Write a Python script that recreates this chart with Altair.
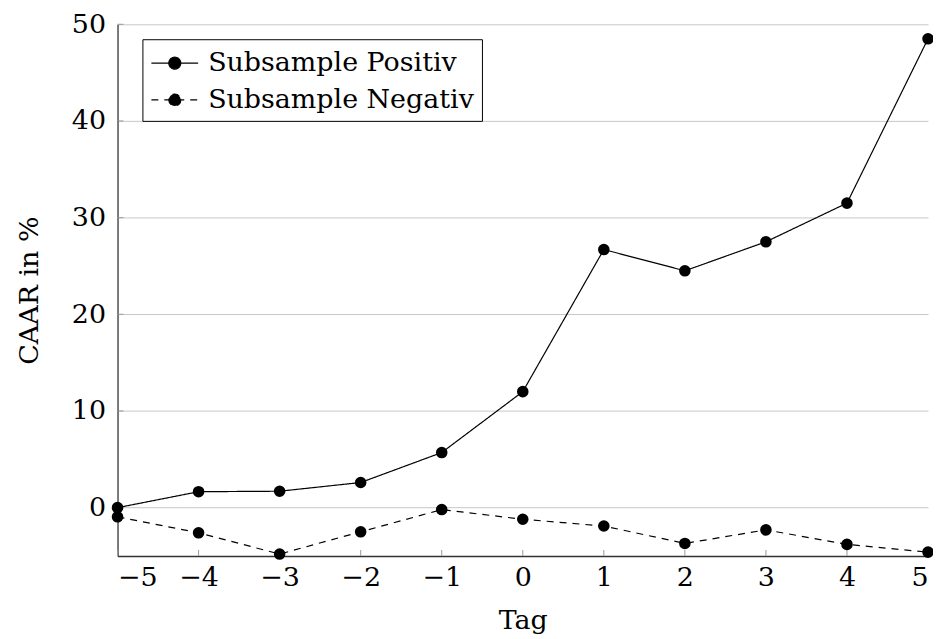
import altair as alt
import pandas as pd

tage = [-5, -4, -3, -2, -1, 0, 1, 2, 3, 4, 5]
positiv = [0.0, 1.65, 1.7, 2.6, 5.7, 12.0, 26.7, 24.5, 27.5, 31.5, 48.5]
negativ = [-0.95, -2.6, -4.8, -2.5, -0.2, -1.2, -1.9, -3.7, -2.3, -3.8, -4.6]
series = ["Subsample Positiv", "Subsample Negativ"]
y_ticks = [0, 10, 20, 30, 40, 50]

df = pd.DataFrame({
    "Tag": tage * 2,
    "CAAR": positiv + negativ,
    "Serie": [series[0]] * len(tage) + [series[1]] * len(tage),
})
xticks_df = pd.DataFrame({"Tag": tage})
yticks_df = pd.DataFrame({"CAAR": y_ticks})

FONT = "DejaVu Serif"
FS = 27
W, H = 814, 534

x_enc = alt.X(
    "Tag:Q",
    scale=alt.Scale(domain=[-5, 5], nice=False, zero=False),
    axis=alt.Axis(values=tage, title="Tag", grid=False, tickSize=0,
                  labelPadding=9, titlePadding=17, format="d"),
)
y_enc = alt.Y(
    "CAAR:Q",
    scale=alt.Scale(domain=[-5, 50], nice=False, zero=False),
    axis=alt.Axis(values=y_ticks, title="CAAR in %", grid=True, tickSize=0,
                  labelPadding=12, titlePadding=28, format="d"),
)

legend_path = ("M-1,0L2.13,0M0.967,0A0.4,0.4,0,1,1,0.167,0"
               "A0.4,0.4,0,1,1,0.967,0Z")

lines = alt.Chart(df).mark_line(color="black", strokeWidth=1.2).encode(
    x=x_enc,
    y=y_enc,
    strokeDash=alt.StrokeDash(
        "Serie:N",
        scale=alt.Scale(domain=series, range=[[1, 0], [7, 6]]),
        legend=alt.Legend(
            title=None, orient="none", legendX=25, legendY=15,
            strokeColor="black", fillColor="white", padding=8,
            cornerRadius=0, labelFont=FONT, labelFontSize=FS,
            labelColor="black", labelOffset=26, rowPadding=8,
            labelLimit=0,
            symbolType=legend_path, symbolSize=900,
            symbolStrokeColor="black", symbolFillColor="black",
            symbolStrokeWidth=1.2,
        ),
    ),
    detail="Serie:N",
)

points = alt.Chart(df).mark_circle(color="black", size=135, opacity=1).encode(
    x="Tag:Q",
    y="CAAR:Q",
)

xtick_marks = alt.Chart(xticks_df).mark_rule(color="#999999", strokeWidth=1).encode(
    x="Tag:Q",
    y=alt.value(H - 6),
    y2=alt.value(H),
)
ytick_marks = alt.Chart(yticks_df).mark_rule(color="#999999", strokeWidth=1).encode(
    y="CAAR:Q",
    x=alt.value(0),
    x2=alt.value(6),
)

chart = alt.layer(xtick_marks, ytick_marks, lines, points).properties(
    width=W,
    height=H,
    autosize=alt.AutoSizeParams(type="none"),
    padding={"left": 110, "top": 15, "right": 5, "bottom": 80},
).configure_view(stroke=None).configure_axis(
    labelFont=FONT, titleFont=FONT, labelFontSize=FS, titleFontSize=FS,
    labelColor="black", titleColor="black", titleFontWeight="normal",
    domainColor="#333333", domainWidth=1.3,
    gridColor="#c8c8c8", gridWidth=1,
).configure_axisX(domain=True).configure_axisY(domain=True)

chart.save("out.html", embed_options={"renderer": "svg", "actions": False})
